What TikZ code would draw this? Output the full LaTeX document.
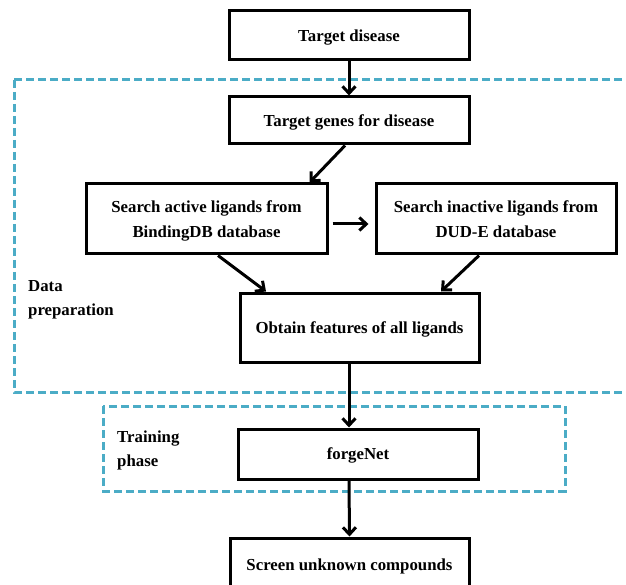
\documentclass[tikz,border=0pt]{standalone}
\usepackage{fontspec}
\setmainfont{Liberation Serif}
\usetikzlibrary{arrows.meta,calc}
\definecolor{dashcol}{HTML}{4BACC6}
\begin{document}
\begin{tikzpicture}[x=1pt,y=-1pt,
  flowbox/.style={draw=black, line width=3pt, inner sep=0pt, align=center, text depth=-1pt,
    font=\bfseries\fontsize{16.8}{25}\selectfont},
  lbl/.style={inner sep=0pt, align=left, anchor=west,
    font=\bfseries\fontsize{16.8}{24}\selectfont},
  arr/.style={line width=3pt, -{Straight Barb[length=7pt,width=13pt]}},
  zone/.style={draw=dashcol, line width=3pt, dash pattern=on 8pt off 4pt}]
\useasboundingbox (0,0) rectangle (626,585);

% dashed zones
\draw[zone] (14,80) -- (640,80) (14,80) -- (14,392) -- (640,392);
\draw[zone] (103,406) rectangle (565,491);

% boxes
\node[flowbox, minimum width=240pt, minimum height=49pt] (td) at (349,35.5) {Target disease};
\node[flowbox, minimum width=240pt, minimum height=47pt] (tg) at (349,120.5) {Target genes for disease};
\node[flowbox, minimum width=241pt, minimum height=70pt] (act) at (206.5,219) {Search active ligands from\\BindingDB database};
\node[flowbox, minimum width=240pt, minimum height=70pt] (inact) at (496,219) {Search inactive ligands from\\DUD-E database};
\node[flowbox, minimum width=239pt, minimum height=69pt] (obt) at (359.5,327.5) {Obtain features of all ligands};
\node[flowbox, minimum width=240pt, minimum height=50pt] (fn) at (358,454) {forgeNet};
\node[flowbox, minimum width=239pt, minimum height=54pt] (scr) at (349.5,565) {Screen unknown compounds};

% labels
\node[lbl] (dp) at (28,300) {Data\\preparation};
\node[lbl] (tp) at (117,450.5) {Training\\phase};

% connectors
\draw[arr] (td.south) -- (tg.north);
\draw[arr] ([xshift=-4pt]tg.south) -- ([xshift=103pt]act.north);
\draw[arr] ($(act.east)+(4,5)$) -- ($(inact.west)+(-6,5)$);
\draw[arr] ([xshift=11.5pt]act.south) -- ([xshift=-93.5pt]obt.north);
\draw[arr] ([xshift=-17pt]inact.south) -- ([xshift=81.5pt]obt.north);
\draw[arr] (obt.south -| tg.south) -- (fn.north -| tg.south);
\draw[arr] (fn.south -| tg.south) -- (scr.north);
\end{tikzpicture}
\end{document}
